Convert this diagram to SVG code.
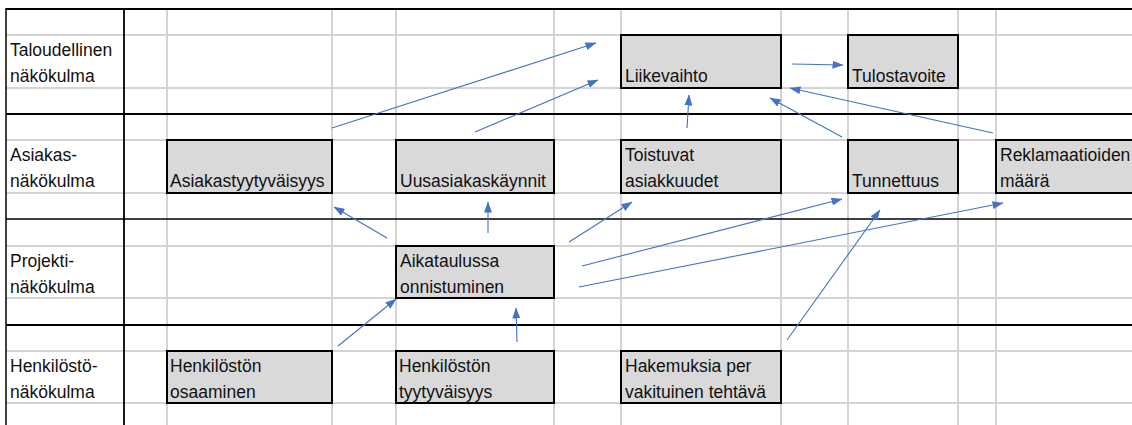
<svg xmlns="http://www.w3.org/2000/svg" width="1132" height="425" viewBox="0 0 1132 425">
<style>
.g{stroke:#d4d4d4;stroke-width:2;fill:none}
.k{stroke:#000;stroke-width:2;fill:none}
.box{fill:#d9d9d9;stroke:#000;stroke-width:2}
text{font-family:"Liberation Sans",Arial,sans-serif;font-size:17.5px;fill:#111}
.c line{stroke:#4472c4;stroke-width:1.1;marker-end:url(#ah)}
</style>
<defs>
<marker id="ah" markerUnits="userSpaceOnUse" viewBox="0 0 11 8" refX="10.5" refY="4" markerWidth="11" markerHeight="8" orient="auto">
<path d="M0,0 L11,4 L0,8 z" fill="#4472c4"/>
</marker>
</defs>
<rect x="0" y="0" width="1132" height="425" fill="#fff"/>
<g id="grid">
<g class="g">
<line x1="167" y1="9" x2="167" y2="425"/>
<line x1="332" y1="9" x2="332" y2="425"/>
<line x1="396" y1="9" x2="396" y2="425"/>
<line x1="554" y1="9" x2="554" y2="425"/>
<line x1="621" y1="9" x2="621" y2="425"/>
<line x1="781" y1="9" x2="781" y2="425"/>
<line x1="848" y1="9" x2="848" y2="425"/>
<line x1="958" y1="9" x2="958" y2="425"/>
<line x1="996" y1="9" x2="996" y2="425"/>
<line x1="6" y1="35" x2="1132" y2="35"/>
<line x1="6" y1="88" x2="1132" y2="88"/>
<line x1="6" y1="140" x2="1132" y2="140"/>
<line x1="6" y1="193" x2="1132" y2="193"/>
<line x1="6" y1="246" x2="1132" y2="246"/>
<line x1="6" y1="298" x2="1132" y2="298"/>
<line x1="6" y1="351" x2="1132" y2="351"/>
<line x1="6" y1="403" x2="1132" y2="403"/>
</g>
<g class="k">
<line x1="6" y1="9" x2="1132" y2="9"/>
<line x1="6" y1="114" x2="1132" y2="114"/>
<line x1="6" y1="219" x2="1132" y2="219" stroke-width="1.3"/>
<line x1="6" y1="325" x2="1132" y2="325"/>
<line x1="6" y1="8" x2="6" y2="425" stroke-width="1.5"/>
<line x1="124" y1="8" x2="124" y2="425" stroke-width="1.8"/>
</g>
</g>
<g id="labels">
<text x="10" y="56">Taloudellinen</text><text x="10" y="82">näkökulma</text>
<text x="10" y="161">Asiakas-</text><text x="10" y="187">näkökulma</text>
<text x="10" y="267">Projekti-</text><text x="10" y="293">näkökulma</text>
<text x="10" y="372">Henkilöstö-</text><text x="10" y="398">näkökulma</text>
</g>
<g id="n-liikevaihto"><rect class="box" x="621" y="35" width="160" height="53"/><text x="625" y="82">Liikevaihto</text></g>
<g id="n-tulostavoite"><rect class="box" x="848" y="35" width="110" height="53"/><text x="852" y="82">Tulostavoite</text></g>
<g id="n-asiakastyytyvaisyys"><rect class="box" x="167" y="140" width="165" height="53"/><text x="170" y="187">Asiakastyytyväisyys</text></g>
<g id="n-uusasiakaskaynnit"><rect class="box" x="396" y="140" width="158" height="53"/><text x="400" y="187">Uusasiakaskäynnit</text></g>
<g id="n-toistuvat"><rect class="box" x="621" y="140" width="160" height="53"/><text x="625" y="161">Toistuvat</text><text x="625" y="187">asiakkuudet</text></g>
<g id="n-tunnettuus"><rect class="box" x="848" y="140" width="110" height="53"/><text x="852" y="187">Tunnettuus</text></g>
<g id="n-reklamaatiot"><rect class="box" x="996" y="140" width="140" height="53"/><text x="1000" y="161">Reklamaatioiden</text><text x="1000" y="187">määrä</text></g>
<g id="n-aikataulussa"><rect class="box" x="396" y="246" width="158" height="52"/><text x="400" y="267">Aikataulussa</text><text x="400" y="293">onnistuminen</text></g>
<g id="n-osaaminen"><rect class="box" x="167" y="351" width="165" height="52"/><text x="170" y="372">Henkilöstön</text><text x="170" y="398">osaaminen</text></g>
<g id="n-tyytyvaisyys"><rect class="box" x="396" y="351" width="158" height="52"/><text x="399" y="372">Henkilöstön</text><text x="399" y="398">tyytyväisyys</text></g>
<g id="n-hakemuksia"><rect class="box" x="621" y="351" width="160" height="52"/><text x="625" y="372">Hakemuksia per</text><text x="625" y="398">vakituinen tehtävä</text></g>
<g id="connectors" class="c">
<line x1="332" y1="128" x2="596" y2="43"/>
<line x1="475" y1="132" x2="598" y2="80"/>
<line x1="687" y1="128" x2="689" y2="95"/>
<line x1="792" y1="64" x2="843" y2="65"/>
<line x1="842" y1="137" x2="770" y2="98"/>
<line x1="993" y1="133" x2="790" y2="88"/>
<line x1="387" y1="238" x2="334" y2="207"/>
<line x1="488" y1="233" x2="488" y2="202"/>
<line x1="569" y1="242" x2="632" y2="202"/>
<line x1="582" y1="266" x2="842" y2="199"/>
<line x1="579" y1="287" x2="1003" y2="203"/>
<line x1="338" y1="346" x2="396" y2="299"/>
<line x1="517" y1="342" x2="516" y2="308"/>
<line x1="787" y1="340" x2="880" y2="210"/>
</g>
</svg>
